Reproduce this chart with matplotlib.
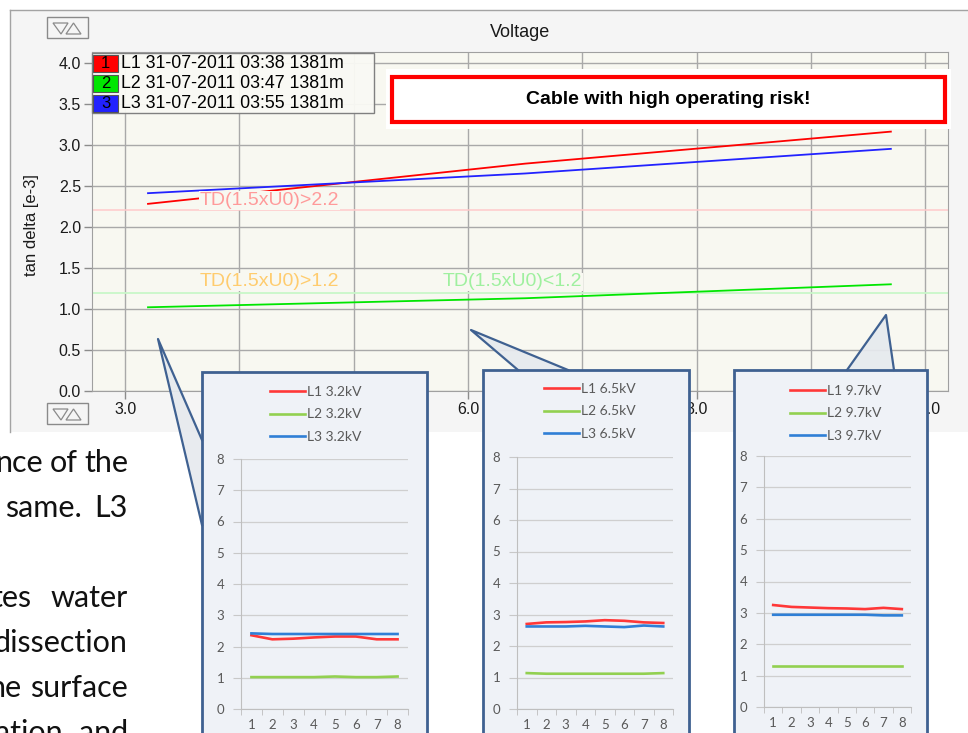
import matplotlib
matplotlib.use("Agg")
import matplotlib.pyplot as plt
from matplotlib.patches import Rectangle, Polygon
from matplotlib.lines import Line2D

W, H = 968, 733

# ---- trend of tan delta against test voltage ----
voltage_kv = [3.2, 6.5, 9.7]
td_l1 = [2.28, 2.77, 3.16]
td_l2 = [1.02, 1.13, 1.30]
td_l3 = [2.41, 2.65, 2.95]
phase_numbers = ["1", "2", "3"]
phase_labels = ["L1 31-07-2011 03:38 1381m",
                "L2 31-07-2011 03:47 1381m",
                "L3 31-07-2011 03:55 1381m"]
limit_high = 2.2
limit_low = 1.2
limit_texts = ["TD(1.5xU0)>2.2", "TD(1.5xU0)>1.2", "TD(1.5xU0)<1.2"]
x_ticks = [3.0, 4.0, 5.0, 6.0, 7.0, 8.0, 9.0, 10.0]
y_ticks = [0.0, 0.5, 1.0, 1.5, 2.0, 2.5, 3.0, 3.5, 4.0]
warning_text = "Cable with high operating risk!"

# ---- eight single readings at each voltage step ----
steps = [1, 2, 3, 4, 5, 6, 7, 8]
step_names = ["3.2kV", "6.5kV", "9.7kV"]
l1_32 = [2.36, 2.23, 2.25, 2.29, 2.32, 2.32, 2.23, 2.23]
l2_32 = [1.02, 1.02, 1.02, 1.02, 1.04, 1.02, 1.02, 1.04]
l3_32 = [2.42, 2.40, 2.40, 2.40, 2.40, 2.40, 2.40, 2.40]
l1_65 = [2.70, 2.75, 2.76, 2.78, 2.82, 2.80, 2.75, 2.73]
l2_65 = [1.14, 1.12, 1.12, 1.12, 1.12, 1.12, 1.12, 1.14]
l3_65 = [2.62, 2.62, 2.62, 2.64, 2.62, 2.60, 2.65, 2.62]
l1_97 = [3.25, 3.19, 3.17, 3.15, 3.14, 3.12, 3.16, 3.12]
l2_97 = [1.30, 1.30, 1.30, 1.30, 1.30, 1.30, 1.30, 1.30]
l3_97 = [2.94, 2.94, 2.94, 2.94, 2.94, 2.94, 2.92, 2.92]
step_ticks = [0, 1, 2, 3, 4, 5, 6, 7, 8]

TREND_COLORS = ["#ff0000", "#00e600", "#2222ff"]
STEP_COLORS = ["#ff3838", "#92d050", "#2f7fd6"]
ARIAL = ["Liberation Sans", "DejaVu Sans"]
NARROW = ["Liberation Sans Narrow", "Liberation Sans", "DejaVu Sans"]
SOFT = ["Lato", "DejaVu Sans"]
BOX_EDGE = "#3f6191"
BOX_FILL = "#eff2f7"


def frac(x0, y0, x1, y1):
    return [x0 / W, 1 - y1 / H, (x1 - x0) / W, (y1 - y0) / H]


fig = plt.figure(figsize=(W / 100, H / 100), dpi=100)
fig.patch.set_facecolor("white")

# background layer: viewer panel, buttons, page text
bg = fig.add_axes([0, 0, 1, 1], zorder=0)
bg.set_xlim(0, W)
bg.set_ylim(H, 0)
bg.axis("off")
bg.add_patch(Rectangle((10, 10), W, 422, fc="#f5f5f5", ec="none"))
bg.add_line(Line2D([10, W], [10, 10], color="#a3a3a3", lw=1))
bg.add_line(Line2D([10, 10], [10, 432], color="#a3a3a3", lw=1))
for top in (17, 403):
    bg.add_patch(Rectangle((47, top), 41, 21, fc="none", ec="#8a8a8a", lw=1))
    bg.add_patch(Polygon([[53, top + 6], [68, top + 6], [61, top + 17]],
                         closed=True, fc="none", ec="#8a8a8a", lw=0.9))
    bg.add_patch(Polygon([[66, top + 17], [81, top + 17], [73.5, top + 6]],
                         closed=True, fc="none", ec="#8a8a8a", lw=0.9))

# justified paragraph fragment: (word, anchor x, baseline y, alignment)
page_words = [("nce", 43, 472, "right"), ("of", 64, 472, "center"),
              ("the", 128, 472, "right"),
              ("same.", 5, 517, "left"), ("L3", 128, 517, "right"),
              ("tes", 32, 607, "right"), ("water", 128, 607, "right"),
              ("dissection", 128, 652, "right"),
              ("ne", 22, 697, "right"), ("surface", 128, 697, "right"),
              ("ation", 63, 742, "right"), ("and", 128, 742, "right")]
for word, xa, yb, align in page_words:
    bg.text(xa, yb, word, ha=align, va="baseline", fontsize=22,
            family=SOFT, color="#111111")

# main chart
ax = fig.add_axes(frac(92, 52, 948, 391), zorder=1)
ax.set_facecolor("#f8f8f1")
ax.axhline(limit_high, color="#ffcaca", lw=1.1, zorder=1.5)
ax.axhline(limit_low, color="#c9f7c9", lw=1.3, zorder=1.5)
for ys, c in zip([td_l1, td_l2, td_l3], TREND_COLORS):
    ax.plot(voltage_kv, ys, color=c, lw=1.3, zorder=2)
lab_kw = dict(fontsize=14, family=ARIAL, va="center", zorder=3,
              bbox=dict(fc="#f8f8f1", ec="none", pad=0.6))
ax.text(3.65, 2.32, limit_texts[0], color="#ff9a9a", **lab_kw)
ax.text(3.65, 1.33, limit_texts[1], color="#ffcc6e", **lab_kw)
ax.text(5.78, 1.33, limit_texts[2], color="#9ff09f", **lab_kw)

ax.set_xlim(2.71, 10.2)
ax.set_ylim(0, 4.13)
ax.set_xticks(x_ticks)
ax.set_xticklabels([f"{v:.1f}" for v in x_ticks])
ax.set_yticks(y_ticks)
ax.set_yticklabels([f"{v:.1f}" for v in y_ticks])
ax.grid(True, color="#a9a9a9", lw=1)
ax.set_axisbelow(True)
ax.tick_params(direction="out", length=6, width=1, color="#8c8c8c",
               labelsize=11.5, pad=2, labelcolor="#1a1a1a")
for lbl in ax.get_xticklabels() + ax.get_yticklabels():
    lbl.set_family(NARROW)
for s in ax.spines.values():
    s.set_color("#a0a0a0")
ax.set_title("Voltage", fontsize=13, family=ARIAL, color="#1a1a1a", pad=11)
ax.set_ylabel("tan delta [e-3]", fontsize=12, family=ARIAL, color="#1a1a1a")
ax.yaxis.set_label_coords(-0.062, 0.49)

# overlay: legend, warning, callouts
ov = fig.add_axes([0, 0, 1, 1], zorder=2)
ov.set_xlim(0, W)
ov.set_ylim(H, 0)
ov.axis("off")
ov.patch.set_alpha(0)

ov.add_patch(Rectangle((92, 53), 282, 60, fc="#fafaf5", ec="#7a7a7a", lw=1,
                       alpha=0.95))
for i, (num, lab, c) in enumerate(zip(phase_numbers, phase_labels, TREND_COLORS)):
    cy = 63 + 20 * i
    ov.add_patch(Rectangle((93, cy - 8.5), 25, 17, fc=c, ec="#555555", lw=0.8))
    ov.text(105.5, cy + 0.5, num, ha="center", va="center", fontsize=12,
            family=ARIAL, color="black")
    ov.text(121, cy + 0.5, lab, ha="left", va="center", fontsize=12.8,
            family=ARIAL, color="black")

ov.add_patch(Rectangle((386, 69), 565, 60, fc="white", ec="none"))
ov.add_patch(Rectangle((391.5, 76.5), 553, 45, fc="white", ec="#ff0000", lw=3))
ov.text(668, 100, warning_text, ha="center", va="center", fontsize=14,
        family=ARIAL, weight="bold", color="black")

boxes = [(202, 372, 427), (483, 370, 689), (734, 370, 927)]
wedges = [[(158, 339), (202, 440), (202, 525)],
          [(471, 330), (518, 370), (568, 370)],
          [(886, 315), (847, 370), (894, 370)]]
for (tip, b1, b2) in wedges:
    ov.add_patch(Polygon([tip, b1, b2], closed=True, fc="#e6eaee",
                         ec="none", alpha=0.92))
    ov.add_line(Line2D([b1[0], tip[0], b2[0]], [b1[1], tip[1], b2[1]],
                       color=BOX_EDGE, lw=1.6))
for (x0, y0, x1) in boxes:
    ov.add_patch(Rectangle((x0, y0), x1 - x0, H + 20 - y0, fc=BOX_FILL,
                           ec=BOX_EDGE, lw=2))

# step charts inside the callouts
insets = [
    (frac(241, 459, 408, 709), (270, 386), step_names[0], [l1_32, l2_32, l3_32]),
    (frac(517, 457, 673, 709), (544, 383), step_names[1], [l1_65, l2_65, l3_65]),
    (frac(764, 456, 911, 707), (790, 385), step_names[2], [l1_97, l2_97, l3_97]),
]
for rect, (lx, ly), vname, series in insets:
    ia = fig.add_axes(rect, zorder=3)
    ia.patch.set_alpha(0)
    handles = []
    for k, (ys, c) in enumerate(zip(series, STEP_COLORS)):
        h, = ia.plot(steps, ys, color=c, lw=1.9, label=f"L{k + 1} {vname}",
                     solid_joinstyle="round")
        handles.append(h)
    ia.set_xlim(0.5, 8.5)
    ia.set_ylim(0, 8)
    ia.set_yticks(step_ticks)
    ia.set_xticks(steps)
    ia.set_xticks([s + 0.5 for s in [0] + steps], minor=True)
    ia.grid(axis="y", color="#cfcfcf", lw=0.9)
    ia.set_axisbelow(True)
    ia.tick_params(axis="y", length=6, color="#c8c8c8", labelsize=9.5,
                   labelcolor="#595959", pad=6)
    ia.tick_params(axis="x", which="major", length=0, labelsize=9.5,
                   labelcolor="#595959", pad=7)
    ia.tick_params(axis="x", which="minor", length=4, color="#bdbdbd")
    for lbl in ia.get_xticklabels() + ia.get_yticklabels():
        lbl.set_family(SOFT)
    for side in ("top", "right"):
        ia.spines[side].set_visible(False)
    for side in ("left", "bottom"):
        ia.spines[side].set_color("#bfbfbf")
    leg = ia.legend(handles=handles, loc="upper left",
                    bbox_to_anchor=(lx / W, 1 - ly / H),
                    bbox_transform=fig.transFigure, frameon=False,
                    prop=dict(family=SOFT, size=10), handlelength=2.5,
                    handletextpad=0.15, labelspacing=0.75, borderpad=0,
                    borderaxespad=0)
    for t in leg.get_texts():
        t.set_color("#595959")

fig.savefig("out.png", dpi=100)
